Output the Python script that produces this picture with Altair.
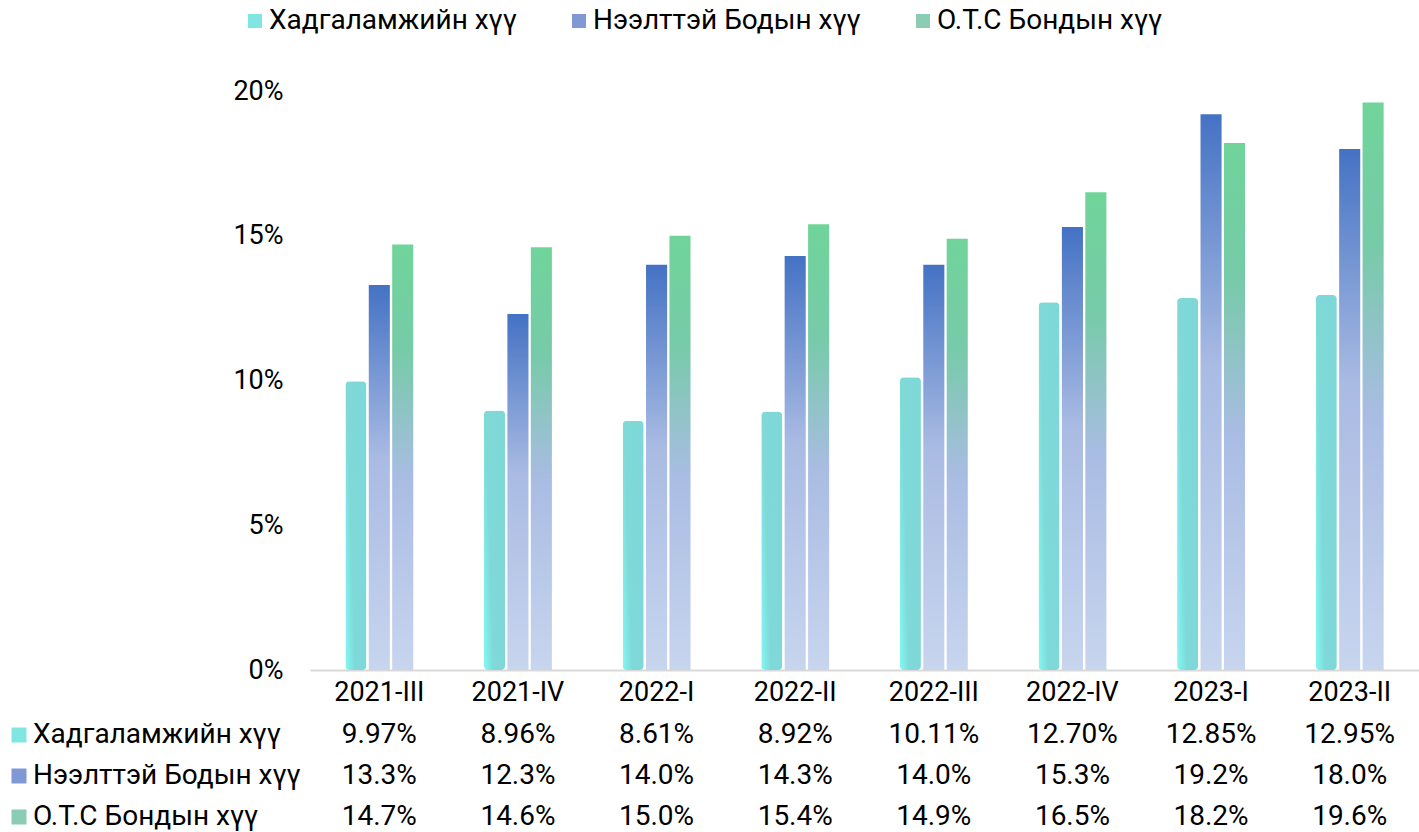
import altair as alt
import pandas as pd

categories = ["2021-III", "2021-IV", "2022-I", "2022-II", "2022-III", "2022-IV", "2023-I", "2023-II"]
series = ["Хадгаламжийн хүү", "Нээлттэй Бодын хүү", "О.Т.С Бондын хүү"]
savings = [9.97, 8.96, 8.61, 8.92, 10.11, 12.70, 12.85, 12.95]
open_bond = [13.3, 12.3, 14.0, 14.3, 14.0, 15.3, 19.2, 18.0]
otc_bond = [14.7, 14.6, 15.0, 15.4, 14.9, 16.5, 18.2, 19.6]
decimals = [2, 1, 1]

rows = []
for s, vals, d in zip(series, [savings, open_bond, otc_bond], decimals):
    for c, v in zip(categories, vals):
        rows.append({"category": c, "series": s, "value": v / 100, "label": f"{v:.{d}f}%"})
df = pd.DataFrame(rows)

solid = ["#80E6E2", "#8099D4", "#8CCBB4"]

bar_grad = [
    {"gradient": "linear", "x1": 0, "y1": 1, "x2": 1, "y2": 0.6,
     "stops": [{"offset": 0, "color": "#84F8F3"}, {"offset": 0.4, "color": "#7ED9D8"},
               {"offset": 1, "color": "#7ED8D7"}]},
    {"gradient": "linear", "x1": 0, "y1": 0, "x2": 0, "y2": 1,
     "stops": [{"offset": 0, "color": "#4472C4"}, {"offset": 0.45, "color": "#A9BBE3"},
               {"offset": 1, "color": "#C7D5EE"}]},
    {"gradient": "linear", "x1": 0, "y1": 0, "x2": 0, "y2": 1,
     "stops": [{"offset": 0, "color": "#70D49A"}, {"offset": 0.25, "color": "#76CBA8"},
               {"offset": 0.55, "color": "#A9BCE3"}, {"offset": 1, "color": "#C7D5EE"}]},
]

FONT = "Roboto"
W, H = 1109, 579

x_scale = alt.Scale(domain=categories, paddingInner=0.51, paddingOuter=0.255)
color_scale = alt.Scale(domain=series, range=solid)

top_legend = alt.Legend(
    title=None, orient="none", legendX=-69, legendY=-84, direction="horizontal",
    columns=3, gridAlign="none", columnPadding=48, symbolType="square", symbolSize=196,
    symbolStrokeWidth=0, labelFontSize=28, labelFont=FONT, labelColor="#000000",
    labelLimit=500, labelOffset=0,
)

layers = []
for i, s in enumerate(series):
    mk = alt.Chart(df).transform_filter(f"datum.series === '{s}'")
    mk = mk.mark_bar(cornerRadius=4) if i == 0 else mk.mark_bar()
    mk = mk.encode(
        x=alt.X("category:N", sort=categories, scale=x_scale,
                axis=alt.Axis(title=None, labelAngle=0, labelFontSize=27, labelFont=FONT,
                              labelColor="#000000", ticks=False, tickSize=0, labelPadding=9,
                              domainColor="#D9D9D9", domainWidth=2)),
        xOffset=alt.XOffset("series:N", sort=series,
                            scale=alt.Scale(domain=series, paddingInner=0.1, paddingOuter=0)),
        y=alt.Y("value:Q", scale=alt.Scale(domain=[0, 0.2], nice=False),
                axis=alt.Axis(title=None, format=".0%", values=[0, 0.05, 0.1, 0.15, 0.2],
                              labelFontSize=27, labelFont=FONT, labelColor="#000000",
                              ticks=False, tickSize=0, labelPadding=27, domain=False, grid=False)),
        color=alt.Color("series:N", scale=color_scale, legend=top_legend,
                        condition={"test": "true", "value": bar_grad[i]}),
    )
    layers.append(mk)

main = alt.layer(*layers).properties(width=W, height=H)

table_legend = alt.Legend(
    title=None, orient="none", legendX=-305, legendY=0, direction="vertical",
    symbolType="square", symbolSize=225, symbolStrokeWidth=0, labelFontSize=28,
    labelFont=FONT, labelColor="#000000", labelLimit=500, labelOffset=0, rowPadding=13,
)

table = alt.Chart(df).mark_text(fontSize=28, font=FONT, baseline="middle", align="center").encode(
    x=alt.X("category:N", sort=categories, scale=x_scale, axis=None),
    y=alt.Y("series:N", sort=series, scale=alt.Scale(type="point", domain=series, padding=0.34),
            axis=None),
    text="label:N",
    color=alt.Color("series:N", scale=color_scale, legend=table_legend,
                    condition={"test": "true", "value": "#000000"}),
).properties(width=W, height=110)

chart = alt.vconcat(main, table, spacing=15).resolve_scale(
    color="independent", x="independent"
).resolve_legend(color="independent").properties(
    padding={"left": 5, "top": 7, "right": 0, "bottom": 0}
).configure(font=FONT).configure_view(stroke=None)

chart.save("out.html", embed_options={"renderer": "svg", "actions": False})
